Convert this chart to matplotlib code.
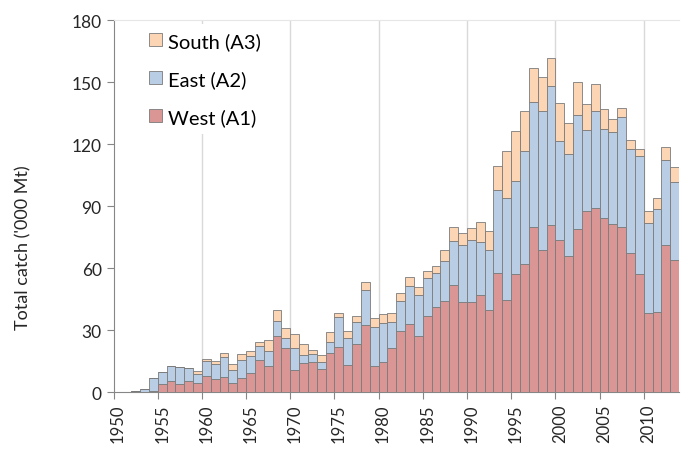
import numpy as np
import matplotlib
matplotlib.use("Agg")
import matplotlib.pyplot as plt

# Datos (miles de toneladas)
years = list(range(1950, 2014))

west = [0.2, 0.3, 0.6, 0.3, 0.5, 4.0, 5.4, 3.9, 5.2, 4.3,
        8.0, 6.2, 7.3, 4.5, 7.0, 9.4, 15.8, 12.6, 27.2, 21.2,
        10.7, 14.0, 14.5, 11.3, 18.9, 21.8, 13.2, 23.4, 32.3, 12.9,
        14.5, 21.4, 29.8, 33.1, 27.3, 37.1, 41.3, 44.3, 52.1, 43.6,
        43.4, 47.1, 40.0, 57.9, 44.5, 57.2, 62.2, 80.1, 69.0, 81.0,
        73.8, 66.1, 79.1, 87.5, 89.1, 84.4, 81.2, 80.1, 67.2, 57.4,
        38.3, 38.7, 71.4, 64.0]

east = [0.0, 0.0, 0.0, 1.2, 6.4, 5.6, 7.1, 8.1, 6.3, 4.4,
        6.9, 7.6, 9.9, 6.3, 8.5, 8.1, 6.4, 7.2, 7.1, 5.1,
        10.6, 4.0, 3.9, 3.2, 5.6, 14.5, 13.2, 10.6, 17.0, 18.6,
        18.9, 12.8, 14.4, 18.2, 19.5, 18.0, 16.6, 19.2, 21.2, 27.6,
        30.4, 25.7, 28.8, 40.0, 49.6, 45.1, 54.5, 60.4, 66.9, 66.9,
        47.6, 49.0, 55.2, 39.2, 47.1, 43.1, 44.7, 53.0, 50.2, 56.9,
        43.7, 49.7, 41.0, 37.6]

south = [0.0, 0.0, 0.0, 0.0, 0.0, 0.0, 0.0, 0.0, 0.0, 1.4,
         1.4, 1.3, 1.8, 2.8, 3.0, 2.5, 2.1, 5.4, 5.7, 4.7,
         6.8, 5.3, 2.1, 3.3, 4.4, 2.1, 3.0, 2.9, 4.0, 4.3,
         4.3, 4.0, 3.8, 4.3, 4.1, 3.5, 3.3, 5.4, 6.8, 5.6,
         5.4, 9.4, 9.3, 11.6, 22.5, 23.9, 19.5, 16.4, 16.4, 13.9,
         18.3, 15.0, 15.7, 12.9, 12.7, 9.5, 6.0, 4.2, 4.6, 3.4,
         5.5, 5.7, 6.4, 7.1]

series_names = ["West (A1)", "East (A2)", "South (A3)"]
colores = ["#D99694", "#B9CDE5", "#FCD5B5"]

plt.rcParams['font.family'] = ['Lato', 'DejaVu Sans']

fig = plt.figure(figsize=(6.88, 4.52), dpi=100)
ax = fig.add_axes([0.165, 0.13, 0.822, 0.8235])

x = np.array(years)
w = np.array(west)
e = np.array(east)
s = np.array(south)

borde = dict(edgecolor="#7a7a7a", linewidth=0.6, width=1.0, align="edge", zorder=3)
b1 = ax.bar(x, w, color=colores[0], label=series_names[0], **borde)
b2 = ax.bar(x, e, bottom=w, color=colores[1], label=series_names[1], **borde)
b3 = ax.bar(x, s, bottom=w + e, color=colores[2], label=series_names[2], **borde)

# Ejes
ax.set_xlim(1950, 2014)
ax.set_ylim(0, 180)
ax.set_yticks(range(0, 181, 30))
ax.set_xticks(range(1950, 2011, 5))
ax.set_xticklabels([])
ax.set_xticks([y + 0.5 for y in range(1950, 2011, 5)], minor=True)
ax.set_xticklabels([str(y) for y in range(1950, 2011, 5)], minor=True, rotation=90)
ax.tick_params(axis="x", which="minor", length=0, labelsize=12, pad=8, colors="#262626")
ax.tick_params(axis="x", which="major", length=5, color="#868686")
ax.tick_params(axis="y", length=5, color="#868686", labelsize=12.5, labelcolor="#262626")

for yr in range(1960, 2011, 10):
    ax.axvline(yr, color="#d9d9d9", linewidth=1.0, zorder=1)

ax.spines["right"].set_visible(False)
ax.spines["top"].set_color("#e6e6e6")
ax.spines["left"].set_color("#868686")
ax.spines["bottom"].set_color("#868686")

ax.set_ylabel("Total catch ('000 Mt)", fontsize=13, color="#262626")
ax.yaxis.set_label_coords(-0.145, 0.39)

leg = ax.legend(handles=[b3, b2, b1], loc="upper left", bbox_to_anchor=(0.03, 1.017),
                frameon=True, facecolor="white", edgecolor="none", framealpha=1,
                fancybox=False, fontsize=14.5, labelspacing=1.0,
                handlelength=0.65, handleheight=0.65, handletextpad=0.3,
                borderpad=0.4)
leg.set_zorder(5)

fig.savefig("out.png", dpi=100)
